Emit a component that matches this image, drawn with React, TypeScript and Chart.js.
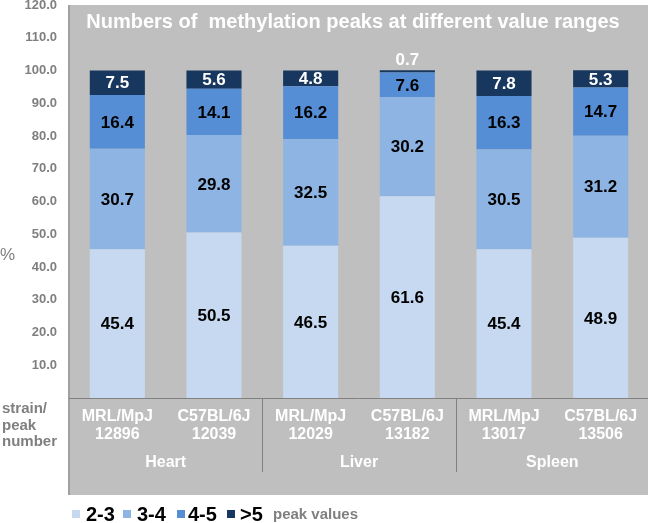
import React, { useEffect, useRef } from 'react';
import { Chart, registerables } from 'chart.js';

Chart.register(...registerables);

// ---- data ----
const strains = ['MRL/MpJ', 'C57BL/6J', 'MRL/MpJ', 'C57BL/6J', 'MRL/MpJ', 'C57BL/6J'];
const peakNumbers = ['12896', '12039', '12029', '13182', '13017', '13506'];
const tissues = ['Heart', 'Liver', 'Spleen'];
const seriesNames = ['2-3', '3-4', '4-5', '>5'];
const range2to3 = [45.4, 50.5, 46.5, 61.6, 45.4, 48.9];
const range3to4 = [30.7, 29.8, 32.5, 30.2, 30.5, 31.2];
const range4to5 = [16.4, 14.1, 16.2, 7.6, 16.3, 14.7];
const rangeOver5 = [7.5, 5.6, 4.8, 0.7, 7.8, 5.3];
const yMax = 120;
const yStep = 10;
const titleText = 'Numbers of  methylation peaks at different value ranges';
const legendSuffix = 'peak values';
const yAxisLabel = '%';
const rowHeader = ['strain/', 'peak', 'number'];

const colors = ['#c6d9f1', '#8db4e2', '#558ed5', '#17375e'];
const FONT = '"Liberation Sans", Arial, sans-serif';

const decoPlugin = {
  id: 'deco',
  beforeDraw(chart: any) {
    const { ctx, chartArea } = chart;
    ctx.save();
    ctx.fillStyle = '#bfbfbf';
    ctx.fillRect(chartArea.left, 5, 648 - chartArea.left, 490);
    ctx.restore();
  },
  afterDatasetsDraw(chart: any) {
    const { ctx, chartArea } = chart;
    const xs = chart.scales.x;
    ctx.save();

    // left axis line
    ctx.strokeStyle = '#a0a0a0';
    ctx.lineWidth = 2;
    ctx.beginPath();
    ctx.moveTo(chartArea.left, 5);
    ctx.lineTo(chartArea.left, 495);
    ctx.stroke();

    // bottom line
    ctx.strokeStyle = '#808080';
    ctx.lineWidth = 1;
    ctx.beginPath();
    ctx.moveTo(chartArea.left, Math.round(chartArea.bottom) + 0.5);
    ctx.lineTo(648, Math.round(chartArea.bottom) + 0.5);
    ctx.stroke();

    // group separators
    for (let g = 1; g < tissues.length; g++) {
      const x = (xs.getPixelForValue(g * 2 - 1) + xs.getPixelForValue(g * 2)) / 2;
      ctx.beginPath();
      ctx.moveTo(Math.round(x) + 0.5, chartArea.bottom);
      ctx.lineTo(Math.round(x) + 0.5, 472);
      ctx.stroke();
    }

    // data labels
    ctx.textAlign = 'center';
    ctx.textBaseline = 'middle';
    ctx.font = `bold 17px ${FONT}`;
    chart.data.datasets.forEach((ds: any, di: number) => {
      const meta = chart.getDatasetMeta(di);
      meta.data.forEach((el: any, i: number) => {
        const v = ds.data[i];
        const top = el.y;
        const base = el.base;
        let cy = (top + base) / 2;
        if (Math.abs(base - top) < 12) cy = top - 11;
        ctx.fillStyle = di === 3 ? '#ffffff' : '#000000';
        ctx.fillText(v.toFixed(1), el.x, cy + 1);
      });
    });

    // title
    ctx.fillStyle = '#ffffff';
    ctx.font = `bold 20px ${FONT}`;
    ctx.fillText(titleText, 353, 22);

    // table text
    ctx.fillStyle = '#ffffff';
    ctx.font = `bold 16px ${FONT}`;
    strains.forEach((s, i) => {
      const x = xs.getPixelForValue(i);
      ctx.fillText(s, x, 417);
      ctx.fillText(peakNumbers[i], x, 435);
    });
    tissues.forEach((t, g) => {
      const x = (xs.getPixelForValue(g * 2) + xs.getPixelForValue(g * 2 + 1)) / 2;
      ctx.fillText(t, x, 463);
    });

    // y axis label
    ctx.fillStyle = '#7f7f7f';
    ctx.font = `17px ${FONT}`;
    ctx.textAlign = 'left';
    ctx.fillText(yAxisLabel, 0, 255);

    // row header
    ctx.font = `bold 15px ${FONT}`;
    rowHeader.forEach((t, i) => ctx.fillText(t, 2, 409 + i * 16.5));

    // legend
    const sqX = [72, 123, 177, 227];
    const txX = [86, 137, 188, 240];
    seriesNames.forEach((n, i) => {
      ctx.fillStyle = colors[i];
      ctx.fillRect(sqX[i], 510, 8, 8);
      ctx.fillStyle = '#000000';
      ctx.font = `bold 20px ${FONT}`;
      ctx.fillText(n, txX[i], 515);
    });
    ctx.fillStyle = '#7f7f7f';
    ctx.font = `bold 15px ${FONT}`;
    ctx.fillText(legendSuffix, 273, 515);

    ctx.restore();
  },
};

export default function App() {
  const ref = useRef<HTMLCanvasElement>(null);
  useEffect(() => {
    document.body.style.margin = '0';
    const canvas = ref.current!;
    const chart = new Chart(canvas, {
      type: 'bar',
      data: {
        labels: strains.map((s, i) => `${s} ${peakNumbers[i]}`),
        datasets: [range2to3, range3to4, range4to5, rangeOver5].map((d, i) => ({
          label: seriesNames[i],
          data: d,
          backgroundColor: colors[i],
          borderWidth: 0,
          categoryPercentage: 1,
          barPercentage: 0.57,
        })),
      },
      options: {
        responsive: false,
        animation: false,
        devicePixelRatio: 1,
        layout: { padding: { left: 0, right: 1, top: 5, bottom: 125 } },
        plugins: { legend: { display: false }, tooltip: { enabled: false }, title: { display: false } },
        scales: {
          x: { stacked: true, display: false },
          y: {
            stacked: true,
            min: 0,
            max: yMax,
            border: { display: false },
            grid: { display: false, drawTicks: false },
            ticks: {
              stepSize: yStep,
              padding: 12,
              color: '#7f7f7f',
              font: { family: FONT, size: 13, weight: 'bold' },
              callback: (v: any) => (Number(v) === 0 ? '' : Number(v).toFixed(1)),
            },
            afterFit: (s: any) => {
              s.width = 69;
              s.paddingTop = 0;
              s.paddingBottom = 0;
            },
          },
        },
      },
      plugins: [decoPlugin],
    });
    return () => chart.destroy();
  }, []);
  return (
    <div style={{ width: 650, height: 523 }}>
      <canvas ref={ref} width={650} height={523} style={{ display: 'block' }} />
    </div>
  );
}
